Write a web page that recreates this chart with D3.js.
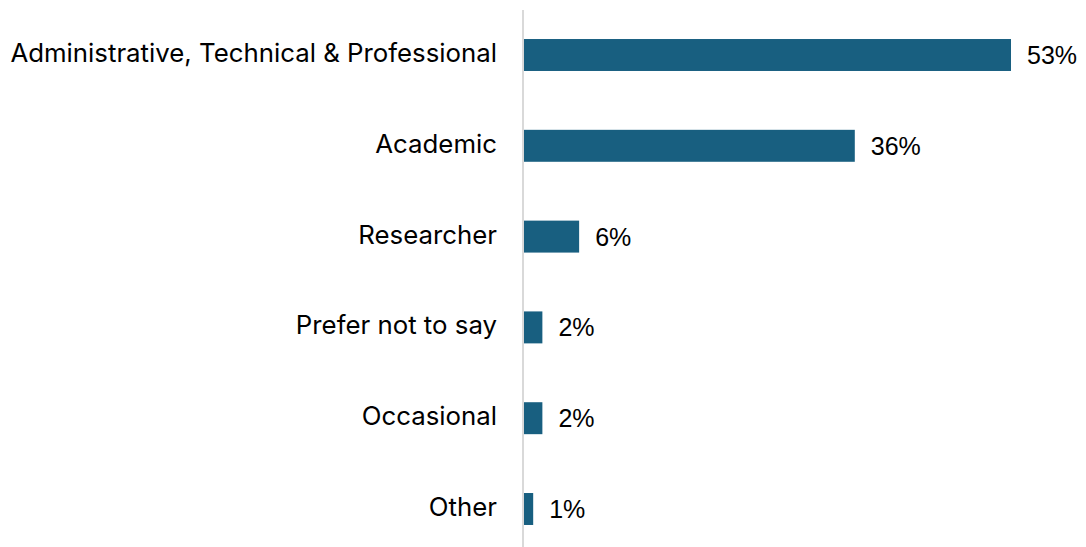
<!DOCTYPE html>
<html>
<head>
<meta charset="utf-8">
<script src="https://cdn.jsdelivr.net/npm/d3@7"></script>
<style>
  html, body { margin: 0; padding: 0; background: #ffffff; }
  svg { display: block; }
</style>
</head>
<body>
<svg id="chart" width="1086" height="547"></svg>
<script>
// Share of respondents by staff category (%)
const categories = [
  "Administrative, Technical & Professional",
  "Academic",
  "Researcher",
  "Prefer not to say",
  "Occasional",
  "Other"
];
const shares = [53, 36, 6, 2, 2, 1];
const valueLabels = ["53%", "36%", "6%", "2%", "2%", "1%"];

const data = categories.map((c, i) => ({ category: c, value: shares[i], label: valueLabels[i] }));

const width = 1086, height = 547;
const axisX = 524;

const svg = d3.select("#chart");

const x = d3.scaleLinear()
  .domain([0, 53])
  .range([axisX, 1011]);

const y = d3.scaleBand()
  .domain(categories)
  .range([9.6, 554.4])
  .paddingInner(0.648)
  .paddingOuter(0.324);

// bars
svg.append("g")
  .selectAll("rect")
  .data(data)
  .join("rect")
  .attr("x", x(0))
  .attr("y", d => y(d.category))
  .attr("width", d => x(d.value) - x(0))
  .attr("height", y.bandwidth())
  .attr("fill", "#185f80");

// vertical baseline
svg.append("line")
  .attr("x1", axisX - 1)
  .attr("x2", axisX - 1)
  .attr("y1", 10)
  .attr("y2", height)
  .attr("stroke", "#d9d9d9")
  .attr("stroke-width", 2);

// category labels
svg.append("g")
  .selectAll("text")
  .data(data)
  .join("text")
  .attr("x", 497)
  .attr("y", d => y(d.category) + y.bandwidth() / 2)
  .attr("dy", "0.27em")
  .attr("text-anchor", "end")
  .attr("font-family", "Inter, 'Open Sans', sans-serif")
  .attr("font-size", 25.8)
  .attr("fill", "#000000")
  .text(d => d.category);

// value labels
svg.append("g")
  .selectAll("text")
  .data(data)
  .join("text")
  .attr("x", d => x(d.value) + 16)
  .attr("y", d => y(d.category) + y.bandwidth() / 2)
  .attr("dy", "0.36em")
  .attr("font-family", "'Liberation Sans', Arial, sans-serif")
  .attr("font-size", 25)
  .attr("fill", "#000000")
  .text(d => d.label);
</script>
</body>
</html>
